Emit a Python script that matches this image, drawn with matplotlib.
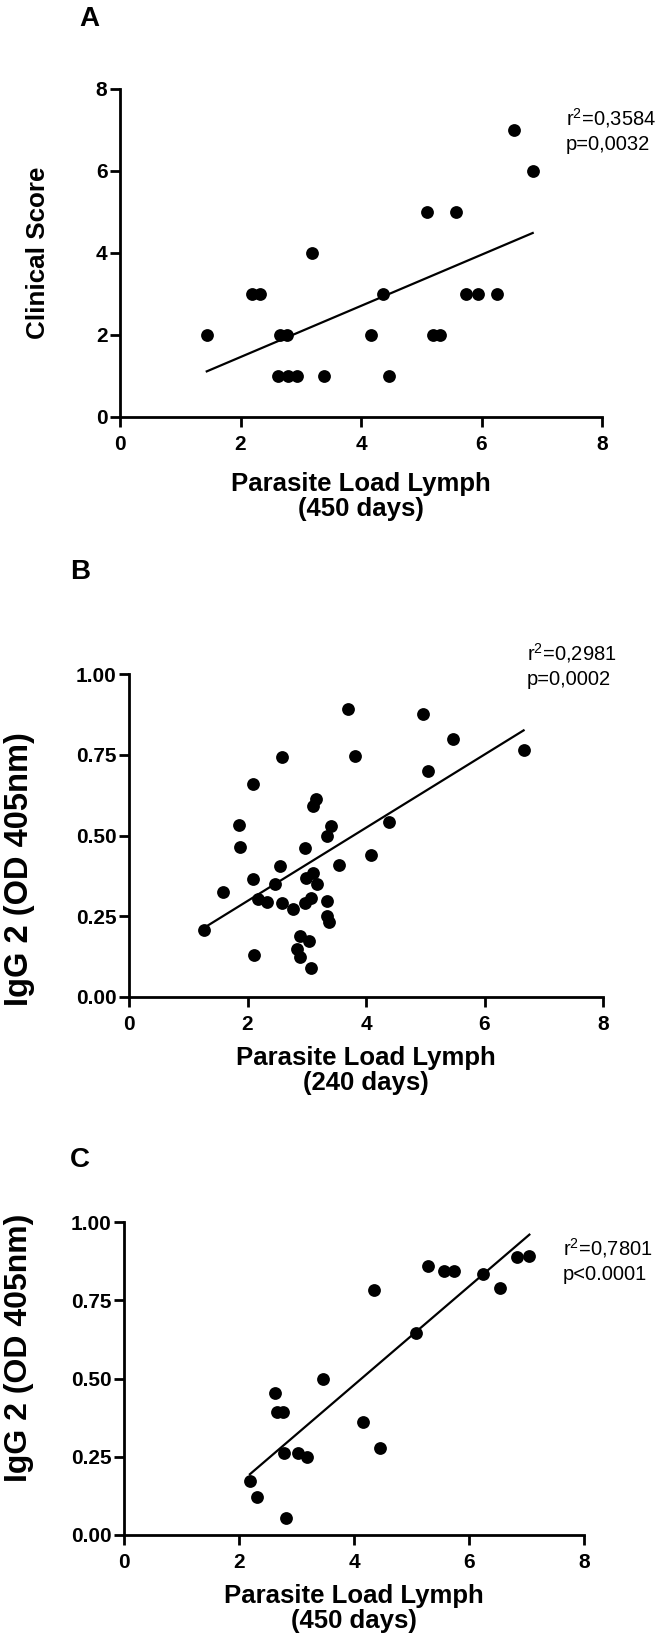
import numpy as np
import matplotlib
matplotlib.use("Agg")
import matplotlib.pyplot as plt

plt.rcParams['font.family'] = ['Liberation Sans', 'DejaVu Sans']
plt.rcParams['mathtext.default'] = 'regular'

# Panel A: parasite load (450 days) vs clinical score
a_x = [1.44, 2.19, 2.32, 2.66, 2.77, 2.63, 2.79, 2.93, 3.19, 3.39, 4.16,
       4.36, 4.47, 5.10, 5.20, 5.31, 5.58, 5.74, 5.94, 6.25, 6.54, 6.85]
a_y = [2, 3, 3, 2, 2, 1, 1, 1, 4, 1, 2,
       3, 1, 5, 2, 2, 5, 3, 3, 3, 7, 6]

# Panel B: parasite load (240 days) vs IgG2
b_x = [1.27, 1.58, 1.86, 1.87, 2.10, 2.10, 2.11, 2.17, 2.33, 2.47, 2.55,
       2.58, 2.59, 2.77, 2.84, 2.89, 2.89, 2.97, 2.98, 2.97, 3.03, 3.07,
       3.07, 3.10, 3.11, 3.15, 3.18, 3.34, 3.34, 3.34, 3.38, 3.41, 3.54,
       3.69, 3.81, 4.08, 4.38, 4.96, 5.04, 5.46, 6.66]
b_y = [0.207, 0.326, 0.532, 0.465, 0.659, 0.366, 0.130, 0.302, 0.295, 0.350, 0.406,
       0.742, 0.290, 0.271, 0.149, 0.190, 0.123, 0.460, 0.367, 0.290, 0.173, 0.305,
       0.089, 0.591, 0.385, 0.612, 0.350, 0.498, 0.298, 0.251, 0.233, 0.530, 0.409,
       0.893, 0.746, 0.440, 0.543, 0.875, 0.700, 0.800, 0.765]

# Panel C: parasite load (450 days) vs IgG2
c_x = [2.19, 2.31, 2.63, 2.66, 2.76, 2.79, 2.81, 3.03, 3.19, 3.46, 4.15,
       4.35, 4.46, 5.08, 5.29, 5.57, 5.74, 6.24, 6.54, 6.83, 7.05]
c_y = [0.174, 0.120, 0.453, 0.394, 0.394, 0.263, 0.053, 0.261, 0.250, 0.497, 0.360,
       0.783, 0.277, 0.646, 0.860, 0.843, 0.843, 0.834, 0.790, 0.887, 0.891]

W, H = 672, 1645
fig = plt.figure(figsize=(W / 100, H / 100), dpi=100)


def px_axes(left, right, top, bottom):
    # axes from pixel edges (x of 0 and 8, y of top and bottom)
    return fig.add_axes([left / W, 1 - bottom / H, (right - left) / W, (bottom - top) / H])


def ftext(x, y, s, **kw):
    # text at pixel position
    return fig.text(x / W, 1 - y / H, s, **kw)


def style(ax, yticks, ylabels):
    for s in ['top', 'right']:
        ax.spines[s].set_visible(False)
    for s in ['left', 'bottom']:
        ax.spines[s].set_linewidth(2)
    ax.set_xlim(0, 8)
    ax.set_xticks([0, 2, 4, 6, 8])
    ax.set_yticks(yticks)
    ax.set_yticklabels(ylabels)
    ax.set_ylim(yticks[0], yticks[-1])
    ax.tick_params(direction='out', length=7, width=2, labelsize=15)
    ax.tick_params(axis='x', pad=6)
    ax.tick_params(axis='y', pad=2)
    for t in ax.get_xticklabels() + ax.get_yticklabels():
        t.set_fontweight('bold')
    for s in ax.spines.values():
        s.set_clip_on(False)


def panel(ax, x, y, stats, stats_xy, letter, letter_xy):
    x = np.array(x)
    y = np.array(y)
    ax.scatter(x, y, s=85, color='black', zorder=3, clip_on=False, linewidths=0)
    k, b = np.polyfit(x, y, 1)
    xs = np.array([x.min(), x.max()])
    ax.plot(xs, k * xs + b, color='black', lw=1.6)
    sx, sy = stats_xy
    ftext(sx, sy, stats[0], fontsize=14.5, va='baseline', ha='left')
    ftext(sx, sy + 25, stats[1], fontsize=14.5, va='baseline', ha='left')
    ftext(letter_xy[0], letter_xy[1], letter, fontsize=20,
          fontweight='bold', ha='center', va='center')


def labels(ax, xlab, xlab_y, ylab, ylab_xy, ysize):
    bb = ax.get_position()
    ftext(ylab_xy[0], ylab_xy[1], ylab, rotation=90, fontsize=ysize,
          fontweight='bold', ha='center', va='center')
    fig.text(bb.x0 + bb.width / 2, 1 - xlab_y / H, xlab, fontsize=18.5,
             fontweight='bold', ha='center', va='top', linespacing=1.05)


axA = px_axes(120, 602, 89, 417)
style(axA, [0, 2, 4, 6, 8], ['0', '2', '4', '6', '8'])
panel(axA, a_x, a_y, ['r$^2$=0,3584', 'p=0,0032'], (566, 125), 'A', (89, 19))
labels(axA, 'Parasite Load Lymph\n(450 days)', 472, 'Clinical Score', (38, 253), 18.7)

qt = [0, 0.25, 0.5, 0.75, 1.0]
qt_lab = ['0.00', '0.25', '0.50', '0.75', '1.00']

axB = px_axes(129, 603, 674, 997)
style(axB, qt, qt_lab)
panel(axB, b_x, b_y, ['r$^2$=0,2981', 'p=0,0002'], (527, 660), 'B', (80, 572))
labels(axB, 'Parasite Load Lymph\n(240 days)', 1046, 'IgG 2 (OD 405nm)', (20, 869), 23.5)

axC = px_axes(124, 584, 1222, 1535)
style(axC, qt, qt_lab)
panel(axC, c_x, c_y, ['r$^2$=0,7801', 'p<0.0001'], (563, 1255), 'C', (80, 1160))
labels(axC, 'Parasite Load Lymph\n(450 days)', 1584, 'IgG 2 (OD 405nm)', (19, 1348), 23)

fig.savefig('out.png', dpi=100, facecolor='white')
